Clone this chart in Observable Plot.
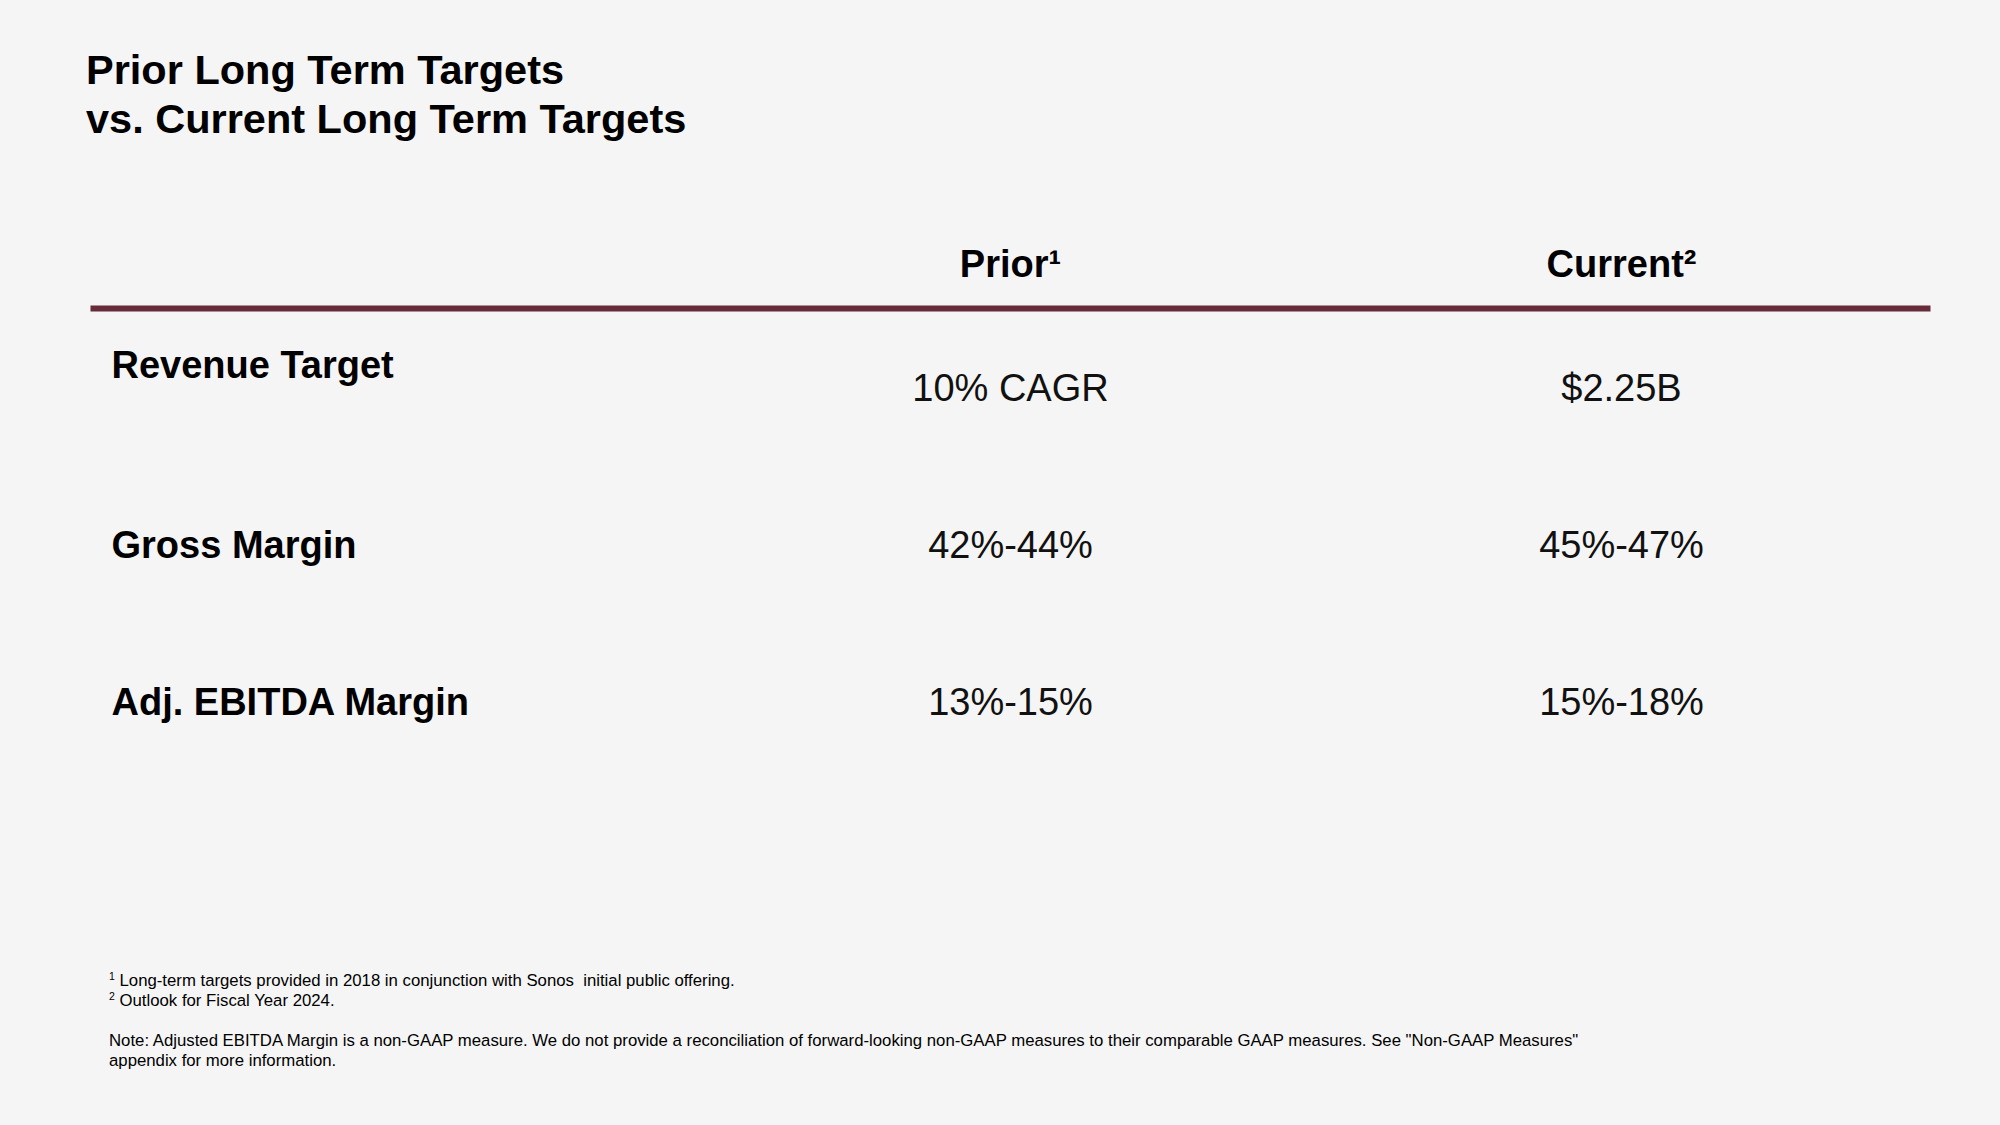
<!DOCTYPE html>
<html>
<head>
<meta charset="utf-8">
<script src="https://cdn.jsdelivr.net/npm/d3@7"></script>
<script src="https://cdn.jsdelivr.net/npm/@observablehq/plot@0.6"></script>
<style>
  html, body { margin: 0; padding: 0; background: #f5f5f5; }
  body { width: 2000px; height: 1125px; position: relative; overflow: hidden; font-family: "Liberation Sans", Arial, Helvetica, sans-serif; color: #000; }
  #title { position: absolute; left: 86px; top: 45px; font-size: 41.5px; font-weight: bold; line-height: 49px; }
  #table { position: absolute; left: 0; top: 199px; }
  #notes { position: absolute; left: 109px; top: 971px; font-size: 16.75px; line-height: 20px; color: #000; white-space: pre; }
  #notes p { margin: 0; }
  #notes .gap { margin-top: 20px; }
  #notes sup { font-size: 10.5px; vertical-align: 6px; line-height: 0; }
</style>
</head>
<body>
<div id="title"></div>
<div id="table"></div>
<div id="notes"></div>
<script>
// ---- data ----
const titleLines = ["Prior Long Term Targets", "vs. Current Long Term Targets"];
const columns = ["Prior", "Current"];
const columnMarks = ["\u00b9", "\u00b2"];
const rows = ["Revenue Target", "Gross Margin", "Adj. EBITDA Margin"];
const prior = ["10% CAGR", "42%-44%", "13%-15%"];
const current = ["$2.25B", "45%-47%", "15%-18%"];
const footnotes = [
  "Long-term targets provided in 2018 in conjunction with Sonos  initial public offering.",
  "Outlook for Fiscal Year 2024."
];
const noteLines = [
  "Note: Adjusted EBITDA Margin is a non-GAAP measure. We do not provide a reconciliation of forward-looking non-GAAP measures to their comparable GAAP measures. See \"Non-GAAP Measures\"",
  "appendix for more information."
];

// ---- title ----
const titleEl = document.getElementById("title");
titleLines.forEach(t => {
  const d = document.createElement("div");
  d.textContent = t;
  titleEl.appendChild(d);
});

// ---- table ----
const cells = rows.flatMap((r, i) => [
  {row: r, col: "Prior", value: prior[i]},
  {row: r, col: "Current", value: current[i]}
]);
const headers = columns.map((c, i) => ({col: c, label: c + columnMarks[i]}));

const font = "Liberation Sans, Arial, Helvetica, sans-serif";
const chart = Plot.plot({
  width: 2000,
  height: 560,
  marginTop: 109,
  marginLeft: 93,
  marginRight: 73,
  marginBottom: 0,
  x: {type: "point", domain: columns, range: [1010, 1621], padding: 0, axis: null},
  y: {type: "point", domain: rows, range: [200, 515], padding: 0, axis: null},
  style: {background: "transparent", fontFamily: font, color: "#000"},
  marks: [
    Plot.frame({anchor: "top", stroke: "#672b39", strokeWidth: 6}),
    Plot.text(headers, {
      x: "col", text: "label", frameAnchor: "top", dy: -32,
      lineAnchor: "bottom", textAnchor: "middle",
      fontSize: 38, fontWeight: "bold", fill: "#000"
    }),
    Plot.text(rows.slice(0, 1), {
      y: d => d, text: d => d, frameAnchor: "left", dx: 18, dy: -23,
      lineAnchor: "bottom", textAnchor: "start",
      fontSize: 38, fontWeight: "bold", fill: "#000"
    }),
    Plot.text(rows.slice(1), {
      y: d => d, text: d => d, frameAnchor: "left", dx: 18,
      lineAnchor: "bottom", textAnchor: "start",
      fontSize: 38, fontWeight: "bold", fill: "#000"
    }),
    Plot.text(cells, {
      x: "col", y: "row", text: "value",
      lineAnchor: "bottom", textAnchor: "middle",
      fontSize: 38, fill: "#111"
    })
  ]
});
document.getElementById("table").appendChild(chart);

// ---- footnotes ----
const notesEl = document.getElementById("notes");
footnotes.forEach((t, i) => {
  const p = document.createElement("p");
  const s = document.createElement("sup");
  s.textContent = String(i + 1);
  p.appendChild(s);
  p.appendChild(document.createTextNode(" " + t));
  notesEl.appendChild(p);
});
noteLines.forEach((t, i) => {
  const p = document.createElement("p");
  if (i === 0) p.className = "gap";
  p.textContent = t;
  notesEl.appendChild(p);
});
</script>
</body>
</html>
